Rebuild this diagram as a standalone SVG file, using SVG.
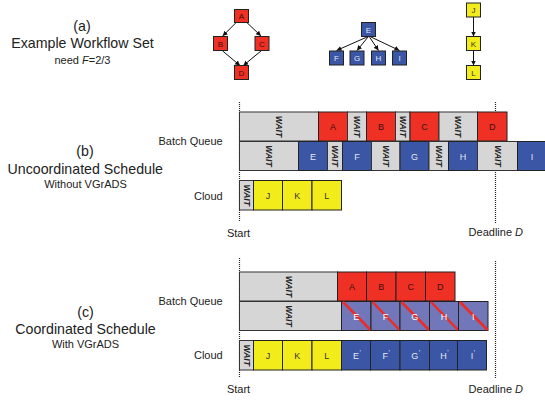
<svg xmlns="http://www.w3.org/2000/svg" width="545" height="401" viewBox="0 0 545 401">
<style>
text{font-family:"Liberation Sans",Arial,sans-serif;fill:#222}
.big{font-size:14.2px;text-anchor:middle}
.sm{font-size:11px}
.mid{text-anchor:middle}
.end{text-anchor:end}
.r{fill:#EE3124;stroke:#222;stroke-width:1}
.b{fill:#3A56A5;stroke:#222;stroke-width:1}
.y{fill:#F3EC1B;stroke:#222;stroke-width:1}
.w{fill:#D6D6D6;stroke:#333;stroke-width:1}
.h{fill:#7177B9;stroke:#222;stroke-width:1}
.hl{stroke:#EE2B24;stroke-width:2.5}
.lbl{font-size:9px;text-anchor:middle}
.lr{fill:#3a1010}
.lb{fill:#E4E6F2}
.ly{fill:#333}
.lw{fill:#fff}
.wt{font-size:8.6px;font-weight:bold;font-style:italic;text-anchor:middle;fill:#222}
.tl{font-size:8px;text-anchor:middle}
.pr{font-size:7px}
.dot{stroke:#222;stroke-width:1.2;stroke-dasharray:1 1;fill:none}
.ar{stroke:#111;stroke-width:1;fill:none;marker-end:url(#ah)}
</style>
<defs>
<marker id="ah" markerUnits="userSpaceOnUse" markerWidth="6" markerHeight="6" refX="5" refY="2.5" orient="auto">
<path d="M0,0 L5,2.5 L0,5 z" fill="#111"/>
</marker>
</defs>

<!-- left labels -->
<g id="labels">
<text class="big" x="82" y="31">(a)</text>
<text class="big" x="82.5" y="48.3">Example Workflow Set</text>
<text class="sm mid" x="82.5" y="63.5">need <tspan font-style="italic">F</tspan>=2/3</text>
<text class="big" x="85" y="156.3">(b)</text>
<text class="big" x="85.3" y="174">Uncoordinated Schedule</text>
<text class="sm mid" x="85.5" y="188.3">Without VGrADS</text>
<text class="sm end" x="222.7" y="145">Batch Queue</text>
<text class="sm end" x="222.7" y="200">Cloud</text>
<text class="big" x="85.5" y="316.5">(c)</text>
<text class="big" x="85.5" y="334">Coordinated Schedule</text>
<text class="sm mid" x="85.5" y="348.3">With VGrADS</text>
<text class="sm end" x="222.7" y="304.7">Batch Queue</text>
<text class="sm end" x="222.7" y="359.3">Cloud</text>
<text class="sm mid" x="238.5" y="236.5">Start</text>
<text class="sm mid" x="495.8" y="236">Deadline <tspan font-style="italic">D</tspan></text>
<text class="sm mid" x="238.5" y="392.5">Start</text>
<text class="sm mid" x="495.8" y="392.5">Deadline <tspan font-style="italic">D</tspan></text>
</g>

<!-- connectors -->
<g id="connectors">
<line class="ar" x1="236.7" y1="22" x2="222.7" y2="36"/>
<line class="ar" x1="246.3" y1="22" x2="261" y2="36"/>
<line class="ar" x1="222.7" y1="51" x2="240" y2="65.5"/>
<line class="ar" x1="261" y1="51" x2="243.3" y2="65.5"/>
<line class="ar" x1="367" y1="37" x2="336.5" y2="50.5"/>
<line class="ar" x1="368" y1="37" x2="357" y2="50.5"/>
<line class="ar" x1="369.5" y1="37" x2="378.5" y2="50.5"/>
<line class="ar" x1="371" y1="37" x2="399.5" y2="50.5"/>
<line class="ar" x1="473.5" y1="17" x2="473.5" y2="36.5"/>
<line class="ar" x1="473.5" y1="51" x2="473.5" y2="65.5"/>
<line class="dot" x1="239.5" y1="102" x2="239.5" y2="222"/>
<line class="dot" x1="495.5" y1="102" x2="495.5" y2="223"/>
<line class="dot" x1="239.5" y1="258" x2="239.5" y2="378"/>
<line class="dot" x1="495.5" y1="261" x2="495.5" y2="378"/>
</g>

<!-- workflow graph nodes -->
<g id="nA"><rect class="r" x="234.5" y="9.5" width="14" height="13"/><text class="tl lr" x="241.5" y="19">A</text></g>
<g id="nB"><rect class="r" x="213.5" y="36.5" width="14" height="14"/><text class="tl lr" x="220.5" y="46.5">B</text></g>
<g id="nC"><rect class="r" x="255" y="36.5" width="14" height="14"/><text class="tl lr" x="262" y="46.5">C</text></g>
<g id="nD"><rect class="r" x="234.5" y="65.5" width="14" height="14"/><text class="tl lr" x="241.5" y="75.5">D</text></g>
<g id="nE"><rect class="b" x="361.5" y="22.5" width="14" height="14"/><text class="tl lb" x="368.5" y="32.5">E</text></g>
<g id="nF"><rect class="b" x="329.5" y="51" width="14" height="14"/><text class="tl lb" x="336.5" y="61">F</text></g>
<g id="nG"><rect class="b" x="350" y="51" width="14" height="14"/><text class="tl lb" x="357" y="61">G</text></g>
<g id="nH"><rect class="b" x="371.5" y="51" width="14" height="14"/><text class="tl lb" x="378.5" y="61">H</text></g>
<g id="nI"><rect class="b" x="392.5" y="51" width="14" height="14"/><text class="tl lb" x="399.5" y="61">I</text></g>
<g id="nJ"><rect class="y" x="466.5" y="3" width="14" height="14"/><text class="tl ly" x="473.5" y="13">J</text></g>
<g id="nK"><rect class="y" x="466.5" y="36.5" width="14" height="14"/><text class="tl ly" x="473.5" y="46.5">K</text></g>
<g id="nL"><rect class="y" x="466.5" y="65.5" width="14" height="14"/><text class="tl ly" x="473.5" y="75.5">L</text></g>

<!-- (b) batch queue row 1 -->
<g id="b1">
<g id="b1w1"><rect class="w" x="239.5" y="112" width="79" height="29"/><text class="wt" transform="translate(279,126.5) rotate(90)" y="3">WAIT</text></g>
<g id="b1A"><rect class="r" x="318.5" y="112" width="29" height="29"/><text class="lbl lr" x="333" y="130">A</text></g>
<g id="b1w2"><rect class="w" x="347.5" y="112" width="19" height="29"/><text class="wt" transform="translate(357,126.5) rotate(90)" y="3">WAIT</text></g>
<g id="b1B"><rect class="r" x="366.5" y="112" width="29" height="29"/><text class="lbl lr" x="381" y="130">B</text></g>
<g id="b1w3"><rect class="w" x="395.5" y="112" width="14.5" height="29"/><text class="wt" transform="translate(402.75,126.5) rotate(90)" y="3">WAIT</text></g>
<g id="b1C"><rect class="r" x="410" y="112" width="29" height="29"/><text class="lbl lr" x="424.5" y="130">C</text></g>
<g id="b1w4"><rect class="w" x="439" y="112" width="38.5" height="29"/><text class="wt" transform="translate(458.25,126.5) rotate(90)" y="3">WAIT</text></g>
<g id="b1D"><rect class="r" x="477.5" y="112" width="29.5" height="29"/><text class="lbl lr" x="492.25" y="130">D</text></g>
</g>

<!-- (b) batch queue row 2 -->
<g id="b2">
<g id="b2w1"><rect class="w" x="239.5" y="141.5" width="59" height="29"/><text class="wt" transform="translate(269,156) rotate(90)" y="3">WAIT</text></g>
<g id="b2E"><rect class="b" x="298.5" y="141.5" width="29" height="29"/><text class="lbl lb" x="313" y="159.5">E</text></g>
<g id="b2w2"><rect class="w" x="327.5" y="141.5" width="15" height="29"/><text class="wt" transform="translate(335,156) rotate(90)" y="3">WAIT</text></g>
<g id="b2F"><rect class="b" x="342.5" y="141.5" width="29" height="29"/><text class="lbl lb" x="357" y="159.5">F</text></g>
<g id="b2w3"><rect class="w" x="371.5" y="141.5" width="28.5" height="29"/><text class="wt" transform="translate(385.75,156) rotate(90)" y="3">WAIT</text></g>
<g id="b2G"><rect class="b" x="400" y="141.5" width="29" height="29"/><text class="lbl lb" x="414.5" y="159.5">G</text></g>
<g id="b2w4"><rect class="w" x="429" y="141.5" width="19.5" height="29"/><text class="wt" transform="translate(438.75,156) rotate(90)" y="3">WAIT</text></g>
<g id="b2H"><rect class="b" x="448.5" y="141.5" width="29" height="29"/><text class="lbl lb" x="463" y="159.5">H</text></g>
<g id="b2w5"><rect class="w" x="477.5" y="141.5" width="40" height="29"/><text class="wt" transform="translate(497.5,156) rotate(90)" y="3">WAIT</text></g>
<g id="b2I"><rect class="b" x="517.5" y="141.5" width="30" height="29"/><text class="lbl lb" x="532" y="159.5">I</text></g>
</g>

<!-- (b) cloud -->
<g id="bc">
<g id="bcw"><rect class="w" x="239.5" y="180.5" width="14" height="29.5"/><text class="wt" transform="translate(246.5,195.25) rotate(90)" y="3">WAIT</text></g>
<g id="bcJ"><rect class="y" x="253.5" y="180.5" width="29" height="29.5"/><text class="lbl ly" x="268" y="198.5">J</text></g>
<g id="bcK"><rect class="y" x="282.5" y="180.5" width="29.5" height="29.5"/><text class="lbl ly" x="297.25" y="198.5">K</text></g>
<g id="bcL"><rect class="y" x="312" y="180.5" width="29.5" height="29.5"/><text class="lbl ly" x="326.75" y="198.5">L</text></g>
</g>

<!-- (c) batch queue row 1 -->
<g id="c1">
<g id="c1w"><rect class="w" x="239.5" y="272" width="98" height="29"/><text class="wt" transform="translate(288.5,286.5) rotate(90)" y="3">WAIT</text></g>
<g id="c1A"><rect class="r" x="337.5" y="272" width="29" height="29"/><text class="lbl lr" x="352" y="290">A</text></g>
<g id="c1B"><rect class="r" x="366.5" y="272" width="29.5" height="29"/><text class="lbl lr" x="381.25" y="290">B</text></g>
<g id="c1C"><rect class="r" x="396" y="272" width="29.5" height="29"/><text class="lbl lr" x="410.75" y="290">C</text></g>
<g id="c1D"><rect class="r" x="425.5" y="272" width="29.5" height="29"/><text class="lbl lr" x="440.25" y="290">D</text></g>
</g>

<!-- (c) batch queue row 2 (cancelled) -->
<g id="c2">
<g id="c2w"><rect class="w" x="239.5" y="301.5" width="102" height="29"/><text class="wt" transform="translate(288.5,316) rotate(90)" y="3">WAIT</text></g>
<g id="c2E"><rect class="h" x="341.5" y="301.5" width="29.5" height="29"/><line class="hl" x1="343" y1="302" x2="370.5" y2="330"/><text class="lbl lw" x="356.25" y="319.5">E</text></g>
<g id="c2F"><rect class="h" x="371" y="301.5" width="29" height="29"/><line class="hl" x1="372.5" y1="302" x2="399.5" y2="330"/><text class="lbl lw" x="385.5" y="319.5">F</text></g>
<g id="c2G"><rect class="h" x="400" y="301.5" width="29.5" height="29"/><line class="hl" x1="401.5" y1="302" x2="429" y2="330"/><text class="lbl lw" x="414.75" y="319.5">G</text></g>
<g id="c2H"><rect class="h" x="429.5" y="301.5" width="29" height="29"/><line class="hl" x1="431" y1="302" x2="458" y2="330"/><text class="lbl lw" x="444" y="319.5">H</text></g>
<g id="c2I"><rect class="h" x="458.5" y="301.5" width="29.5" height="29"/><line class="hl" x1="460" y1="302" x2="487.5" y2="330"/><text class="lbl lw" x="473.25" y="319.5">I</text></g>
</g>

<!-- (c) cloud -->
<g id="cc">
<g id="ccw"><rect class="w" x="239.5" y="340.5" width="14" height="29.5"/><text class="wt" transform="translate(246.5,355.25) rotate(90)" y="3">WAIT</text></g>
<g id="ccJ"><rect class="y" x="253.5" y="340.5" width="29" height="29.5"/><text class="lbl ly" x="268" y="358.5">J</text></g>
<g id="ccK"><rect class="y" x="282.5" y="340.5" width="29.5" height="29.5"/><text class="lbl ly" x="297.25" y="358.5">K</text></g>
<g id="ccL"><rect class="y" x="312" y="340.5" width="29.5" height="29.5"/><text class="lbl ly" x="326.75" y="358.5">L</text></g>
<g id="ccE"><rect class="b" x="341.5" y="340.5" width="29" height="29.5"/><text class="lbl lb" x="357" y="358.5">E<tspan class="pr" dx="0.5" dy="-3.5">'</tspan></text></g>
<g id="ccF"><rect class="b" x="370.5" y="340.5" width="29.5" height="29.5"/><text class="lbl lb" x="386.25" y="358.5">F<tspan class="pr" dx="0.5" dy="-3.5">'</tspan></text></g>
<g id="ccG"><rect class="b" x="400" y="340.5" width="29.5" height="29.5"/><text class="lbl lb" x="415.75" y="358.5">G<tspan class="pr" dx="0.5" dy="-3.5">'</tspan></text></g>
<g id="ccH"><rect class="b" x="429.5" y="340.5" width="28" height="29.5"/><text class="lbl lb" x="444.5" y="358.5">H<tspan class="pr" dx="0.5" dy="-3.5">'</tspan></text></g>
<g id="ccI"><rect class="b" x="457.5" y="340.5" width="29" height="29.5"/><text class="lbl lb" x="473" y="358.5">I<tspan class="pr" dx="0.5" dy="-3.5">'</tspan></text></g>
</g>
</svg>
